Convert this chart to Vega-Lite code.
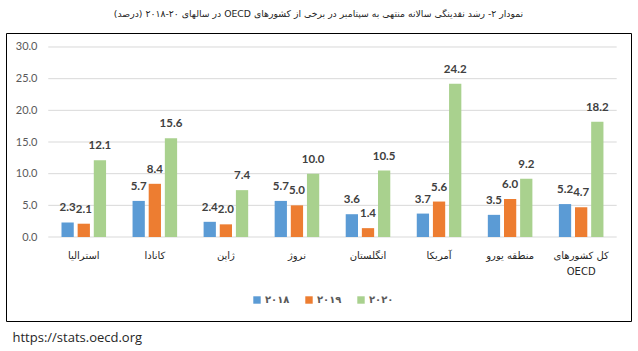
{
  "$schema": "https://vega.github.io/schema/vega-lite/v6.json",
  "width": 625,
  "height": 288,
  "autosize": "none",
  "padding": {"left": 6, "top": 33, "right": 7, "bottom": 30},
  "background": "#ffffff",
  "config": {
    "view": {"stroke": "#000000", "strokeWidth": 1},
    "font": "Lato"
  },
  "title": {
    "text": "\u202bنمودار ۲- رشد نقدینگی سالانه منتهی به سپتامبر در برخی از کشورهای OECD در سالهای ۲۰-۲۰۱۸ (درصد)\u202c",
    "font": "DejaVu Sans",
    "fontSize": 9.3,
    "fontWeight": "normal",
    "color": "#262626",
    "anchor": "middle",
    "offset": 14
  },
  "datasets": {
    "bars": [
      {"country": "استرالیا", "year": "۲۰۱۸", "value": 2.3},
      {"country": "استرالیا", "year": "۲۰۱۹", "value": 2.1},
      {"country": "استرالیا", "year": "۲۰۲۰", "value": 12.1},
      {"country": "کانادا", "year": "۲۰۱۸", "value": 5.7},
      {"country": "کانادا", "year": "۲۰۱۹", "value": 8.4},
      {"country": "کانادا", "year": "۲۰۲۰", "value": 15.6},
      {"country": "ژاپن", "year": "۲۰۱۸", "value": 2.4},
      {"country": "ژاپن", "year": "۲۰۱۹", "value": 2.0},
      {"country": "ژاپن", "year": "۲۰۲۰", "value": 7.4},
      {"country": "نروژ", "year": "۲۰۱۸", "value": 5.7},
      {"country": "نروژ", "year": "۲۰۱۹", "value": 5.0},
      {"country": "نروژ", "year": "۲۰۲۰", "value": 10.0},
      {"country": "انگلستان", "year": "۲۰۱۸", "value": 3.6},
      {"country": "انگلستان", "year": "۲۰۱۹", "value": 1.4},
      {"country": "انگلستان", "year": "۲۰۲۰", "value": 10.5},
      {"country": "آمریکا", "year": "۲۰۱۸", "value": 3.7},
      {"country": "آمریکا", "year": "۲۰۱۹", "value": 5.6},
      {"country": "آمریکا", "year": "۲۰۲۰", "value": 24.2},
      {"country": "منطقه یورو", "year": "۲۰۱۸", "value": 3.5},
      {"country": "منطقه یورو", "year": "۲۰۱۹", "value": 6.0},
      {"country": "منطقه یورو", "year": "۲۰۲۰", "value": 9.2},
      {"country": "کل کشورهای OECD", "year": "۲۰۱۸", "value": 5.2},
      {"country": "کل کشورهای OECD", "year": "۲۰۱۹", "value": 4.7},
      {"country": "کل کشورهای OECD", "year": "۲۰۲۰", "value": 18.2}
    ],
    "grid": [{"g": 0}, {"g": 5}, {"g": 10}, {"g": 15}, {"g": 20}, {"g": 25}, {"g": 30}]
  },
  "data": {"name": "bars"},
  "encoding": {
    "x": {
      "field": "country",
      "type": "nominal",
      "sort": null,
      "scale": {
        "domain": ["استرالیا", "کانادا", "ژاپن", "نروژ", "انگلستان", "آمریکا", "منطقه یورو", "کل کشورهای OECD"],
        "paddingInner": 0,
        "paddingOuter": 0.398,
        "align": 0.747
      },
      "axis": {
        "orient": "bottom",
        "offset": -74,
        "domain": false,
        "ticks": false,
        "grid": false,
        "labelAngle": 0,
        "labelPadding": 3,
        "labelFont": "DejaVu Sans",
        "labelFontSize": 10,
        "labelColor": "#262626",
        "labelLineHeight": 16,
        "labelOverlap": false,
        "labelExpr": "datum.value == 'کل کشورهای OECD' ? ['کل کشورهای', 'OECD'] : datum.label",
        "title": "https://stats.oecd.org",
        "titleFont": "Open Sans",
        "titleFontSize": 13,
        "titleFontWeight": "normal",
        "titleColor": "#262626",
        "titleAnchor": "start",
        "titleAlign": "left",
        "titleBaseline": "alphabetic",
        "titleX": 6,
        "titleY": 94
      }
    },
    "y": {
      "field": "value",
      "type": "quantitative",
      "scale": {"domain": [-13.26, 32.21], "nice": false, "zero": false},
      "axis": {
        "values": [0, 5, 10, 15, 20, 25, 30],
        "format": ".1f",
        "grid": false,
        "domain": false,
        "ticks": false,
        "offset": -42,
        "labelPadding": 11,
        "labelFont": "Lato",
        "labelFontSize": 11,
        "labelColor": "#595959",
        "title": null
      }
    }
  },
  "layer": [
    {
      "data": {"name": "grid"},
      "mark": {"type": "rule", "color": "#D9D9D9", "strokeWidth": 1},
      "encoding": {
        "x": {"datum": "استرالیا", "bandPosition": 0},
        "x2": {"datum": "کل کشورهای OECD", "bandPosition": 1},
        "y": {"field": "g", "type": "quantitative"}
      }
    },
    {
      "mark": {"type": "bar"},
      "encoding": {
        "xOffset": {
          "field": "year",
          "type": "nominal",
          "sort": null,
          "scale": {"paddingInner": 0.24, "paddingOuter": 0.82}
        },
        "y2": {"datum": 0},
        "color": {
          "field": "year",
          "type": "nominal",
          "sort": null,
          "scale": {"domain": ["۲۰۱۸", "۲۰۱۹", "۲۰۲۰"], "range": ["#5B9BD5", "#ED7D31", "#A9D18E"]},
          "legend": {
            "orient": "none",
            "legendX": 246,
            "legendY": 262,
            "direction": "horizontal",
            "title": null,
            "symbolType": "square",
            "symbolSize": 55,
            "symbolStrokeWidth": 0,
            "labelFont": "DejaVu Sans",
            "labelFontSize": 10,
            "labelFontWeight": "bold",
            "labelColor": "#595959",
            "labelOffset": 3,
            "columnPadding": 14
          }
        }
      }
    },
    {
      "mark": {"type": "text", "baseline": "middle", "dy": -14, "fontSize": 11.5, "fontWeight": "bold", "color": "#404040", "font": "Lato"},
      "encoding": {
        "xOffset": {
          "field": "year",
          "type": "nominal",
          "sort": null,
          "scale": {"paddingInner": 0.24, "paddingOuter": 0.82}
        },
        "text": {"field": "value", "type": "quantitative", "format": ".1f"}
      }
    }
  ]
}
